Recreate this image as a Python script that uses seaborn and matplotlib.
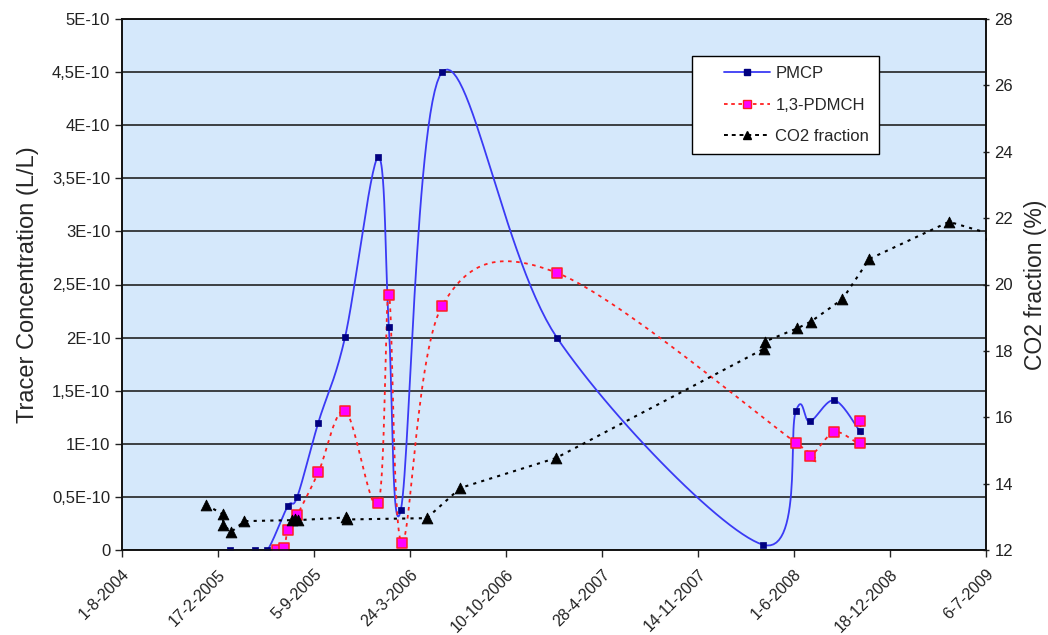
import numpy as np
import pandas as pd
import matplotlib
matplotlib.use("Agg")
import matplotlib.pyplot as plt
import matplotlib.dates as mdates
from matplotlib.lines import Line2D
from matplotlib.legend_handler import HandlerLine2D
from matplotlib.ticker import FuncFormatter
import seaborn as sns

# data
pmcp_dates = ["2005-03-14", "2005-05-05", "2005-05-31", "2005-07-12", "2005-08-01",
              "2005-09-14", "2005-11-09", "2006-01-17", "2006-02-08", "2006-03-05",
              "2006-05-30", "2007-01-24", "2008-03-28", "2008-06-05", "2008-07-04",
              "2008-08-24", "2008-10-16"]
pmcp_vals = [0.0, 0.0, 0.0, 0.41e-10, 0.50e-10, 1.20e-10, 2.01e-10, 3.70e-10, 2.10e-10,
             0.38e-10, 4.50e-10, 2.00e-10, 0.05e-10, 1.31e-10, 1.21e-10, 1.41e-10, 1.12e-10]

pdmch_dates = ["2005-06-19", "2005-07-04", "2005-07-13", "2005-08-01", "2005-09-14",
               "2005-11-09", "2006-01-17", "2006-02-08", "2006-03-07", "2006-05-30",
               "2007-01-24", "2008-06-05", "2008-07-04", "2008-08-24", "2008-10-16",
               "2008-10-16"]
pdmch_vals = [0.0, 0.02e-10, 0.19e-10, 0.33e-10, 0.73e-10, 1.31e-10, 0.44e-10, 2.40e-10,
              0.07e-10, 2.30e-10, 2.61e-10, 1.01e-10, 0.885e-10, 1.11e-10, 1.01e-10, 1.21e-10]

co2_dates = ["2005-01-23", "2005-02-27", "2005-02-28", "2005-03-17", "2005-04-13",
             "2005-07-22", "2005-07-28", "2005-08-03", "2005-11-10", "2005-11-12",
             "2006-04-28", "2006-07-07", "2007-01-22", "2008-03-30", "2008-04-01",
             "2008-06-08", "2008-07-06", "2008-09-10", "2008-11-05", "2009-04-20",
             "2009-07-16"]
co2_vals = [13.36, 13.08, 12.75, 12.55, 12.87, 12.90, 12.92, 12.90, 12.98, 12.92, 12.96,
            13.87, 14.77, 18.06, 18.28, 18.68, 18.88, 19.56, 20.77, 21.89, 21.52]

x_start = pd.Timestamp("2004-08-01")
x_end = pd.Timestamp("2009-07-06")
tick_dates = pd.date_range(x_start, x_end, freq="200D")

W, H = 864, 531  # plot area in pixels, for excel-like smoothing


def smooth(xn, yv, ymin, ymax, xmin, xmax, n=30):
    # excel style smoothed line: bezier through points (catmull-rom), in screen space
    px = (np.asarray(xn) - xmin) / (xmax - xmin) * W
    py = (np.asarray(yv) - ymin) / (ymax - ymin) * H
    P = np.column_stack([px, py])
    out = [P[0]]
    t = np.linspace(0, 1, n)[1:, None]
    for i in range(len(P) - 1):
        p0 = P[i - 1] if i > 0 else P[i]
        p1, p2 = P[i], P[i + 1]
        p3 = P[i + 2] if i + 2 < len(P) else P[i + 1]
        b1 = p1 + (p2 - p0) / 6
        b2 = p2 - (p3 - p1) / 6
        seg = (1 - t) ** 3 * p1 + 3 * (1 - t) ** 2 * t * b1 + 3 * (1 - t) * t ** 2 * b2 + t ** 3 * p2
        out.extend(seg)
    out = np.array(out)
    return (out[:, 0] / W * (xmax - xmin) + xmin,
            out[:, 1] / H * (ymax - ymin) + ymin)


class ShiftedLine(HandlerLine2D):
    # legend sample starts a bit to the right, like in excel
    def create_artists(self, legend, orig_handle, xdescent, ydescent, width, height,
                       fontsize, trans):
        return super().create_artists(legend, orig_handle, xdescent - 16, ydescent,
                                      width - 16, height, fontsize, trans)


sns.set_style("ticks")
plt.rcParams['font.family'] = ['Liberation Sans', 'DejaVu Sans']

fig = plt.figure(figsize=(10.48, 6.35), dpi=100)
ax = fig.add_axes([122 / 1048, 1 - 550 / 635, 864 / 1048, 531 / 635])
ax2 = ax.twinx()

xmin = mdates.date2num(x_start)
xmax = mdates.date2num(x_end)

pm_x = mdates.date2num(pd.to_datetime(pmcp_dates))
pd_x = mdates.date2num(pd.to_datetime(pdmch_dates))
co_x = mdates.date2num(pd.to_datetime(co2_dates))

ax.set_facecolor("#D5E8FB")
ax.set_xlim(xmin, xmax)
ax.set_ylim(0, 5e-10)
ax2.set_ylim(12, 28)
ax.set_yticks(np.arange(0, 5.01e-10, 0.5e-10))
ax2.set_yticks(np.arange(12, 29, 2))
ax.grid(axis="y", color="#222222", lw=1.2)
ax.set_axisbelow(True)

# PMCP
sx, sy = smooth(pm_x, pmcp_vals, 0, 5e-10, xmin, xmax)
sns.lineplot(x=sx, y=sy, sort=False, estimator=None, ax=ax, color="#3A3AF5", lw=1.3)
sns.scatterplot(x=pm_x, y=pmcp_vals, ax=ax, marker="s", s=16, color="#000080",
                edgecolor="#000080", linewidth=0.5, zorder=4)

# 1,3-PDMCH
sx, sy = smooth(pd_x, pdmch_vals, 0, 5e-10, xmin, xmax)
sns.lineplot(x=sx, y=sy, sort=False, estimator=None, ax=ax, color="#FF2020", lw=1.3,
             linestyle=(0, (2, 2.5)))
sns.scatterplot(x=pd_x, y=pdmch_vals, ax=ax, marker="s", s=42, color="#FF00FF",
                edgecolor="#FF2020", linewidth=1.1, zorder=5)

# CO2 fraction (right axis)
sns.lineplot(x=co_x, y=co2_vals, sort=False, estimator=None, ax=ax2, color="black",
             lw=1.5, linestyle=(0, (1.5, 2.5)))
sns.scatterplot(x=co_x, y=co2_vals, ax=ax2, marker="^", s=60, color="black",
                edgecolor="black", zorder=5)

ax.set_xticks(mdates.date2num(tick_dates))
ax.set_xticklabels([f"{d.day}-{d.month}-{d.year}" for d in tick_dates],
                   rotation=45, ha="right", rotation_mode="anchor", fontsize=11.5, color="#222222")


def fmt(v, pos):
    if v == 0:
        return "0"
    s = f"{v / 1e-10:g}".replace(".", ",")
    return f"{s}E-10"


ax.yaxis.set_major_formatter(FuncFormatter(fmt))
ax.tick_params(axis="y", labelsize=12, colors="#222222", length=5, width=1)
ax.tick_params(axis="x", length=5, width=1, pad=7)
ax2.tick_params(axis="y", labelsize=12, colors="#222222", length=5, width=1, direction="inout")
ax.set_ylabel("Tracer Concentration (L/L)", fontsize=17, labelpad=9)
ax2.set_ylabel("CO2 fraction (%)", fontsize=16.5, labelpad=8)
ax.set_xlabel("")

for a in (ax, ax2):
    for sp in a.spines.values():
        sp.set_color("#111111")
        sp.set_linewidth(1.2)

handles = [
    Line2D([], [], color="#3A3AF5", lw=1.3, marker="s", markersize=4,
           markerfacecolor="#000080", markeredgecolor="#000080"),
    Line2D([], [], color="#FF2020", lw=1.3, linestyle=(0, (2, 2)), marker="s", markersize=6,
           markerfacecolor="#FF00FF", markeredgecolor="#FF2020"),
    Line2D([], [], color="black", lw=1.4, linestyle=(0, (2, 2)), marker="^", markersize=6,
           markerfacecolor="black", markeredgecolor="black"),
]
leg = ax2.legend(handles, ["PMCP", "1,3-PDMCH", "CO2 fraction"], loc="upper left",
                 bbox_to_anchor=((692 - 122) / 864, (550 - 56) / 531), fontsize=12,
                 frameon=True, fancybox=False, framealpha=1, edgecolor="black",
                 borderaxespad=0, handlelength=4.1, borderpad=0.6, labelspacing=1.0,
                 handletextpad=0.3, handler_map={Line2D: ShiftedLine()})
leg.get_frame().set_linewidth(1.0)

fig.savefig("out.png", dpi=100)
